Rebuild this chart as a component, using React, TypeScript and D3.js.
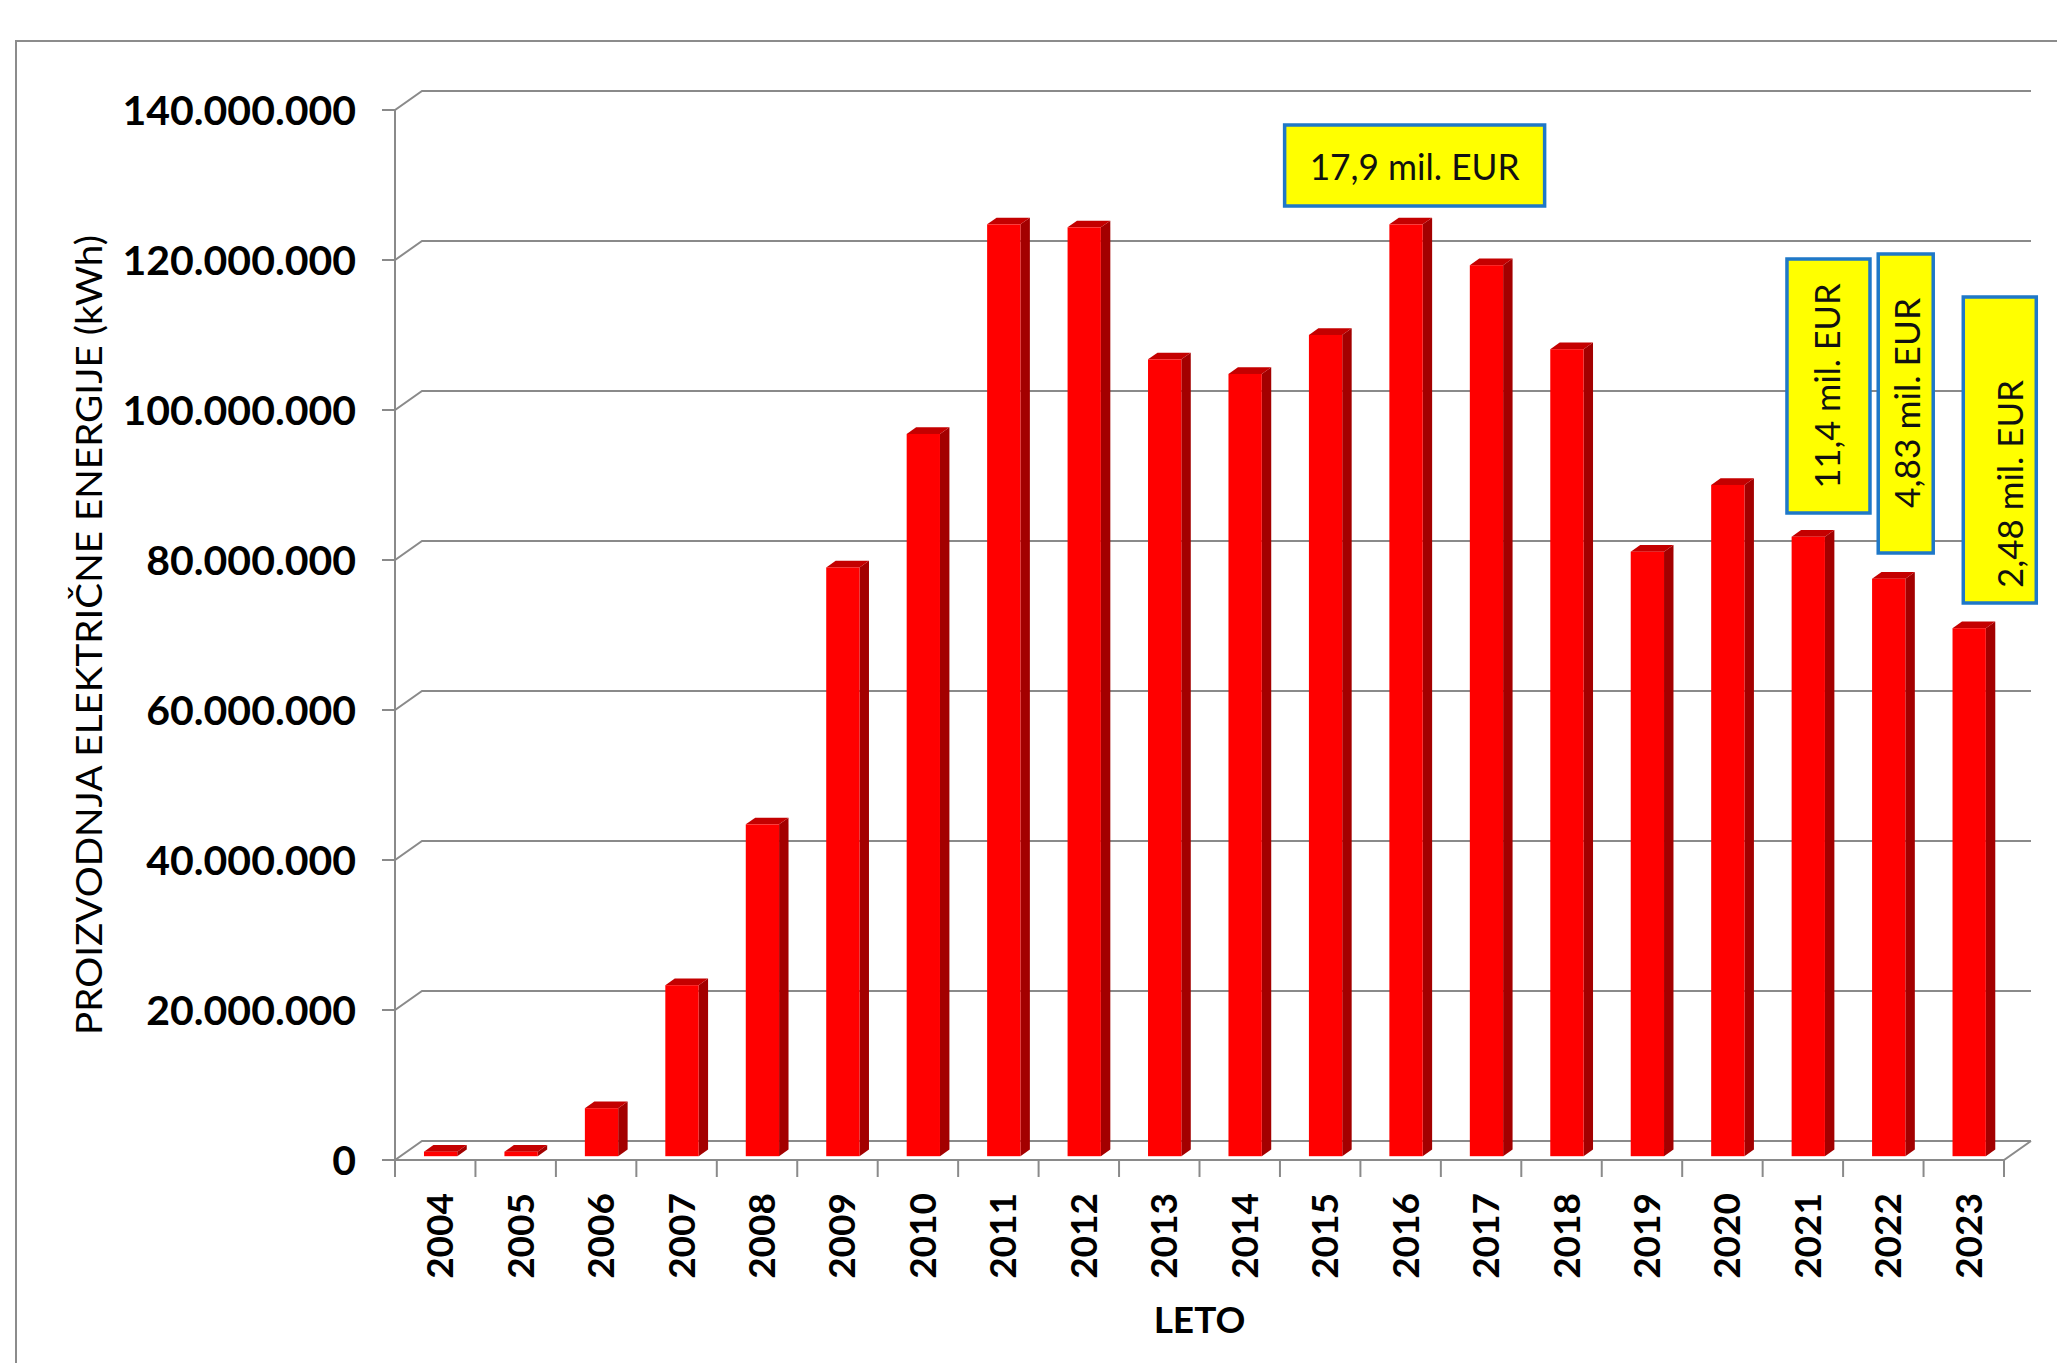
import React, { useEffect } from "react";
import * as d3 from "d3";

// Annual electricity production (kWh) by year
const years = [
  "2004", "2005", "2006", "2007", "2008", "2009", "2010", "2011", "2012", "2013",
  "2014", "2015", "2016", "2017", "2018", "2019", "2020", "2021", "2022", "2023",
];
const production = [
  0.6e6, 0.6e6, 6.4e6, 22.8e6, 44.25e6, 78.5e6, 96.3e6, 124.25e6, 123.85e6, 106.25e6,
  104.3e6, 109.5e6, 124.25e6, 118.8e6, 107.6e6, 80.6e6, 89.5e6, 82.6e6, 77.0e6, 70.4e6,
];
const yTickValues = [0, 20e6, 40e6, 60e6, 80e6, 100e6, 120e6, 140e6];

// Value notes attached to selected years
const noteYears = ["2016", "2021", "2022", "2023"];
const noteTexts = ["17,9 mil. EUR", "11,4 mil. EUR", "4,83 mil. EUR", "2,48 mil. EUR"];

const yTitle = "PROIZVODNJA ELEKTRIČNE ENERGIJE (kWh)";
const xTitle = "LETO";

const W = 2057;
const H = 1363;

// plot geometry (front plane + receding depth)
const X0 = 395;
const X1 = 2004;
const Y_BOTTOM = 1160;
const Y_TOP = 110;
const DEPTH_X = 27;
const DEPTH_Y = 19;
const BAR_FRAC = 0.414;
const T0 = 0.2;
const T1 = 0.55;

const FONT = "Lato, 'Open Sans', 'DejaVu Sans', sans-serif";

const locale = d3.formatLocale({
  decimal: ",",
  thousands: ".",
  grouping: [3],
  currency: ["", " €"],
});
const fmt = locale.format(",d");

// note box placement, relative to each year's band centre
const noteLayout = [
  { dx: 14, w: 260, top: 125, bottom: 206, vertical: false, tx: 14, ty: 180, len: 210 },
  { dx: 25.6, w: 83, top: 259, bottom: 513, vertical: true, tx: 37, ty: 386, len: 205 },
  { dx: 22.4, w: 55, top: 254, bottom: 553, vertical: true, tx: 36.5, ty: 403, len: 210 },
  { dx: 36, w: 73, top: 297, bottom: 603, vertical: true, tx: 59, ty: 484, len: 208 },
];

export default function App() {
  useEffect(() => {
    document.body.style.margin = "0";
    document.body.style.overflow = "hidden";
  }, []);

  const x = d3.scaleBand<string>().domain(years).range([X0, X1]).paddingInner(0).paddingOuter(0);
  const y = d3.scaleLinear().domain([0, 140e6]).range([Y_BOTTOM, Y_TOP]);
  const band = x.bandwidth();
  const barW = band * BAR_FRAC;
  const ddx = (T1 - T0) * DEPTH_X;
  const ddy = (T1 - T0) * DEPTH_Y;

  const gridColor = "#8a8a8a";

  return (
    <svg
      width={W}
      height={H}
      viewBox={`0 0 ${W} ${H}`}
      style={{ position: "absolute", left: 0, top: 0, display: "block", background: "#fff" }}
    >
      <rect x={0} y={0} width={W} height={H} fill="#fff" />
      {/* chart frame */}
      <path d={`M16,${H} L16,41 L${W},41`} fill="none" stroke="#8c8c8c" strokeWidth={2} />

      {/* gridlines on the back wall, with their receding connectors */}
      {yTickValues.map((v) => {
        const yf = y(v);
        return (
          <path
            key={`g${v}`}
            d={`M${X0 - 13},${yf} L${X0},${yf} L${X0 + DEPTH_X},${yf - DEPTH_Y} L${X1 + DEPTH_X},${yf - DEPTH_Y}`}
            fill="none"
            stroke={gridColor}
            strokeWidth={2}
          />
        );
      })}
      {/* front vertical axis */}
      <line x1={X0} x2={X0} y1={y(140e6)} y2={Y_BOTTOM} stroke={gridColor} strokeWidth={2} />
      {/* floor front edge */}
      <path
        d={`M${X0},${Y_BOTTOM} L${X1},${Y_BOTTOM} L${X1 + DEPTH_X},${Y_BOTTOM - DEPTH_Y}`}
        fill="none"
        stroke={gridColor}
        strokeWidth={2}
      />
      {/* category ticks */}
      {d3.range(years.length + 1).map((i) => {
        const xx = X0 + i * band;
        return <line key={`t${i}`} x1={xx} x2={xx} y1={Y_BOTTOM} y2={Y_BOTTOM + 17} stroke={gridColor} strokeWidth={2} />;
      })}

      {/* columns */}
      {years.map((yr, i) => {
        const v = production[i];
        const cx = (x(yr) as number) + band / 2;
        const bx = cx - barW / 2 + T0 * DEPTH_X;
        const yb = Y_BOTTOM - T0 * DEPTH_Y;
        const yt = y(v) - T0 * DEPTH_Y;
        const side = `M${bx + barW},${yb} L${bx + barW},${yt} L${bx + barW + ddx},${yt - ddy} L${bx + barW + ddx},${yb - ddy} Z`;
        const top = `M${bx},${yt} L${bx + barW},${yt} L${bx + barW + ddx},${yt - ddy} L${bx + ddx},${yt - ddy} Z`;
        return (
          <g key={yr}>
            <path d={side} fill="#a30000" />
            <path d={top} fill="#c40000" />
            <rect x={bx} y={yt} width={barW} height={Math.max(0, yb - yt)} fill="#ff0000" />
          </g>
        );
      })}

      {/* value axis labels */}
      {yTickValues.map((v) => (
        <text
          key={`l${v}`}
          x={356}
          y={y(v) + 15}
          textAnchor="end"
          fontFamily={FONT}
          fontWeight="bold"
          fontSize={41}
          fill="#000"
        >
          {fmt(v)}
        </text>
      ))}

      {/* year labels */}
      {years.map((yr) => {
        const cx = (x(yr) as number) + band / 2;
        const bx = cx + 18;
        const by = 1193;
        return (
          <text
            key={`y${yr}`}
            transform={`translate(${bx},${by}) rotate(-90)`}
            textAnchor="end"
            fontFamily={FONT}
            fontWeight="bold"
            fontSize={37}
            fill="#000"
          >
            {yr}
          </text>
        );
      })}

      {/* axis titles */}
      <text
        transform={`translate(102,635) rotate(-90)`}
        textAnchor="middle"
        fontFamily={FONT}
        fontSize={37}
        fill="#000"
        textLength={800}
        lengthAdjust="spacingAndGlyphs"
      >
        {yTitle}
      </text>
      <text x={(X0 + X1) / 2} y={1333} textAnchor="middle" fontFamily={FONT} fontWeight="bold" fontSize={37} fill="#000">
        {xTitle}
      </text>

      {/* value notes */}
      {noteYears.map((yr, i) => {
        const L = noteLayout[i];
        const cx = (x(yr) as number) + band / 2;
        const bxc = cx + L.dx;
        return (
          <g key={`n${yr}`}>
            <rect
              x={bxc - L.w / 2}
              y={L.top}
              width={L.w}
              height={L.bottom - L.top}
              fill="#ffff00"
              stroke="#1f78c8"
              strokeWidth={3.5}
            />
            {L.vertical ? (
              <text
                transform={`translate(${cx + L.tx},${L.ty}) rotate(-90)`}
                textAnchor="middle"
                fontFamily={FONT}
                fontSize={34}
                fill="#111"
                textLength={L.len}
                lengthAdjust="spacingAndGlyphs"
              >
                {noteTexts[i]}
              </text>
            ) : (
              <text
                x={cx + L.tx}
                y={L.ty}
                textAnchor="middle"
                fontFamily={FONT}
                fontSize={37}
                fill="#111"
                textLength={L.len}
                lengthAdjust="spacingAndGlyphs"
              >
                {noteTexts[i]}
              </text>
            )}
          </g>
        );
      })}
    </svg>
  );
}
